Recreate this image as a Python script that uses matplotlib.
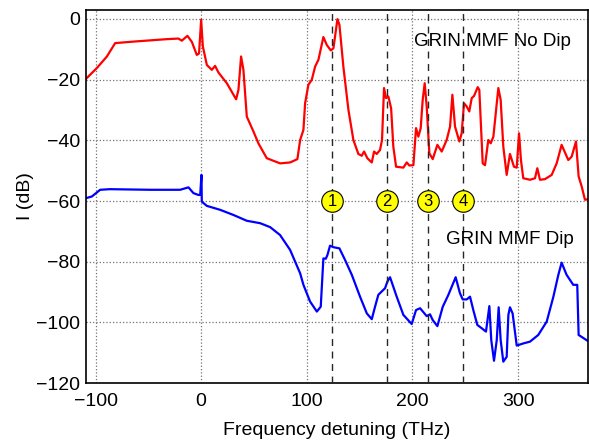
import numpy as np
import matplotlib.pyplot as plt

plt.rcParams['font.family'] = ['Liberation Sans', 'DejaVu Sans']

# red trace: GRIN MMF, no dip
nodip_f = [-109.4, -98.7, -89.2, -81.4, -64, -32.5, -21.5, -18.3, -13, -8.8, -4.1, -2, 0, 1.6,
           5.4, 10.1, 13.2, 16.4, 24.3, 33.1, 35.3, 37.8, 40, 43.2, 49.5, 54.2, 62.1, 74.7,
           84.2, 91.1, 93.7, 96.8, 98.4, 101.5, 104.7, 107.9, 111, 115.7, 118.9, 122.7, 125.2,
           129, 130.9, 134.6, 139.4, 144.1, 148.8, 152, 154.2, 157.3, 161.5, 163.7, 166.2,
           169.3, 171.2, 173.1, 175, 177.2, 179.8, 181.9, 184.5, 191.4, 194.6, 197.1, 200.9,
           203.4, 205.6, 207.8, 209.7, 211.6, 213.5, 216, 219.2, 223.6, 227.7, 232.4, 235.6,
           237.8, 240.3, 244.4, 246.6, 248.8, 251.4, 253.8, 256.1, 258.3, 261.8, 263.3, 266.5,
           268.7, 271.8, 274.1, 276.6, 281.3, 283.5, 286, 289.2, 292.3, 296.1, 298.7, 300.9,
           302.7, 304.9, 311.3, 316, 318.2, 320.7, 325.4, 331.8, 336.5, 341.2, 347.5, 350.7,
           354.8, 357.3, 360.2, 363.3, 367]
nodip_db = [-19.9, -16.2, -12.4, -8.0, -7.5, -6.7, -6.5, -7.2, -5.6, -7.6, -11.9, -11.4, -0.3, -9.1,
            -15.2, -16.8, -15.5, -17.7, -21.2, -26.5, -23.4, -12.4, -16.8, -32.2, -37.1, -41, -45.9, -47.6,
            -47.3, -46.2, -39.9, -36.6, -27.8, -21.7, -20.1, -15.7, -13.5, -6.0, -8.6, -10.4, -9.7,
            -0.1, -2, -15.7, -30, -39.9, -44.5, -45.1, -43.7, -45.9, -47.3, -43.7, -44.5,
            -43.2, -39.9, -22.8, -26.1, -25.6, -29.4, -42.1, -48.7, -49, -47.3, -48.3, -48.2,
            -36, -38.8, -36, -26.7, -21.2, -28.9, -44.3, -46.2, -41.5, -43.7, -39.9, -35.5,
            -25, -35.5, -40.4, -37.7, -27.8, -28.9, -30.5, -26.1, -25.4, -22.5, -23.4, -47.6,
            -48.2, -39.9, -41, -38.8, -22.8, -26.7, -42.1, -51.4, -44.5, -48.7, -49, -37.7,
            -46.5, -52.5, -53, -52.5, -49.2, -53, -52.8, -51.4, -47.6, -41.5, -46.5, -45.4,
            -40.4, -51.9, -55.2, -59.6, -59.3]

# blue trace: GRIN MMF, dip
dip_f = [-109.4, -103.4, -95.6, -86.5, -48.2, -19.9, -12, -7.3, -2.6, -0.9, 0.3, 0.6, 5.4,
         18, 30.6, 43.2, 55.8, 65.3, 74.7, 84.2, 93.7, 96.8, 103.1, 109.5, 113.2, 115.7, 118,
         119.5, 122, 125.2, 130.9, 136.2, 142.6, 150.4, 156.8, 161.5, 164.6, 167.7, 174.1,
         176.3, 178.8, 185.1, 191.4, 199.3, 203.4, 207.2, 213.5, 216.6, 219.2, 223.6, 228.7,
         234, 240.9, 245, 247.6, 251.4, 254.5, 257.6, 261.4, 265.6, 269.6, 272.8, 274.6,
         277.2, 279.8, 281.6, 283.5, 286, 289.2, 290.8, 292.3, 294.8, 298.7, 304.9, 311.3,
         319.1, 327.1, 333.4, 338.1, 341.2, 345.9, 352.2, 356, 357.3, 367]
dip_db = [-59.1, -58.5, -56.3, -56.1, -56.3, -56.3, -55.5, -57.4, -58, -58, -51.4, -60.2, -61.6,
          -62.9, -64.6, -66.5, -67.3, -68.6, -71.2, -76.1, -83.8, -87.6, -93.1, -96.4, -94.8, -78.9, -79,
          -77.8, -74.7, -75.2, -75.6, -79.4, -84.3, -91.5, -97, -98.9, -94.8, -90.9, -88.7,
          -86.5, -85.1, -91.5, -97.5, -100.5, -95.9, -95.3, -97.9, -97.3, -99.2, -101.2, -94.8,
          -90.9, -85.1, -90.4, -92.4, -92.4, -91.5, -95.9, -100.8, -101.9, -103, -94.6, -105.8,
          -112.6, -105.8, -95, -105.8, -112.9, -111.3, -97.5, -95, -97, -107.6, -106.9, -106.3,
          -104.1, -99.7, -91.5, -84.3, -80.3, -84.3, -87.6, -87.6, -104.1, -106.3]

marker_f = [124, 176, 215, 248]
marker_labels = ['1', '2', '3', '4']

fig = plt.figure(figsize=(5.89, 4.41), dpi=100)
ax = fig.add_axes([0.146, 0.131, 0.852, 0.847])

ax.plot(nodip_f, nodip_db, color='red', lw=1.6, zorder=2)
ax.plot(dip_f, dip_db, color='blue', lw=1.6, zorder=2)

for f, lab in zip(marker_f, marker_labels):
    ax.axvline(f, color='0.15', lw=1.0, ls=(0, (5, 4)), zorder=3)
    ax.plot(f, -60, 'o', ms=15.5, mfc='yellow', mec='black', mew=0.8, zorder=4)
    ax.text(f, -60.3, lab, ha='center', va='center', fontsize=12, zorder=5)

ax.text(201, -7.6, 'GRIN MMF No Dip', fontsize=13.5, va='center', ha='left')
ax.text(232, -72.8, 'GRIN MMF Dip', fontsize=13.5, va='center', ha='left')

ax.set_xlim(-109, 366)
ax.set_ylim(-120, 3)
ax.set_xticks([-100, 0, 100, 200, 300])
ax.set_yticks([0, -20, -40, -60, -80, -100, -120])
ax.set_xticklabels(['\u2212100', '0', '100', '200', '300'])
ax.set_yticklabels(['0', '\u221220', '\u221240', '\u221260', '\u221280', '\u2212100', '\u2212120'])
ax.grid(True, ls=':', color='0.45', lw=0.9)
ax.tick_params(direction='in', labelsize=14, length=0)
ax.tick_params(axis='x', pad=7)
ax.tick_params(axis='y', pad=4)
for s in ax.spines.values():
    s.set_linewidth(1.2)

ax.set_xlabel('Frequency detuning (THz)', fontsize=14, labelpad=9)
ax.set_ylabel('I (dB)', fontsize=14, labelpad=2)

fig.savefig('out.png', dpi=100)
